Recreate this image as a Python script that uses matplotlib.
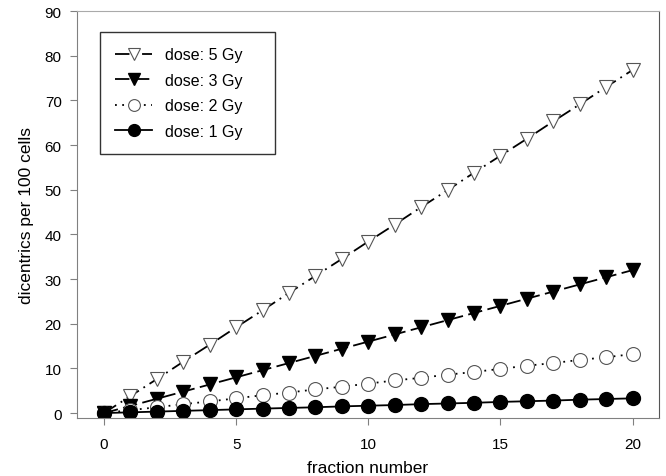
import numpy as np
import matplotlib
matplotlib.use("Agg")
import matplotlib.pyplot as plt

plt.rcParams['font.family'] = ['Liberation Sans', 'DejaVu Sans']

fractions = list(range(0, 21))
dose_5gy = [0, 3.8, 7.6, 11.5, 15.3, 19.2, 23.0, 26.9, 30.7, 34.5, 38.4,
            42.2, 46.1, 49.9, 53.8, 57.6, 61.4, 65.3, 69.1, 73.0, 76.8]
dose_3gy = [0, 1.6, 3.2, 4.8, 6.4, 8.0, 9.6, 11.2, 12.8, 14.4, 16.0,
            17.6, 19.2, 20.8, 22.4, 24.0, 25.6, 27.2, 28.8, 30.4, 32.0]
dose_2gy = [0, 0.66, 1.3, 2.0, 2.6, 3.3, 4.0, 4.6, 5.3, 5.9, 6.6,
            7.3, 7.9, 8.6, 9.2, 9.9, 10.6, 11.2, 11.9, 12.5, 13.2]
dose_1gy = [0, 0.17, 0.33, 0.5, 0.66, 0.83, 1.0, 1.15, 1.3, 1.5, 1.65,
            1.8, 2.0, 2.15, 2.3, 2.5, 2.65, 2.8, 3.0, 3.15, 3.3]
labels = ['dose: 5 Gy', 'dose: 3 Gy', 'dose: 2 Gy', 'dose: 1 Gy']

fig = plt.figure(figsize=(6.66, 4.77), dpi=100)
ax = fig.add_axes([0.1156, 0.1216, 0.8739, 0.8532])

ms = 10
ax.plot(fractions, dose_5gy, color='black', lw=1.3, ls=(0, (8, 3, 1, 3)),
        marker='v', ms=ms, mfc='white', mec='#555555', mew=0.8, label=labels[0])
ax.plot(fractions, dose_3gy, color='black', lw=1.3, ls=(0, (8, 3)),
        marker='v', ms=ms, mfc='black', mec='black', label=labels[1])
ax.plot(fractions, dose_2gy, color='black', lw=1.3, ls=(0, (1, 3)),
        marker='o', ms=ms, mfc='white', mec='#555555', mew=0.8, label=labels[2])
ax.plot(fractions, dose_1gy, color='black', lw=1.3, ls='-',
        marker='o', ms=ms, mfc='black', mec='black', label=labels[3])

ax.set_xlim(-1.02, 21.0)
ax.set_ylim(-1.1, 90)
ax.set_xticks([0, 5, 10, 15, 20])
ax.set_yticks(range(0, 91, 10))
ax.tick_params(direction='out', length=5, color='#808080', labelsize=11)
ax.tick_params(axis='x', pad=9)
ax.tick_params(axis='y', pad=6)
ax.spines['left'].set_color('#808080')
ax.spines['bottom'].set_color('#808080')
ax.spines['top'].set_color('#aaaaaa')
ax.spines['right'].set_color('#555555')

ax.set_xlabel('fraction number', fontsize=12.5, labelpad=6)
ax.set_ylabel('dicentrics per 100 cells', fontsize=12.5, labelpad=8)

leg = ax.legend(loc='upper left', bbox_to_anchor=(0.0395, 0.648, 0.3007, 0.3),
                mode='expand', borderaxespad=0, fontsize=11.5,
                frameon=True, fancybox=False, edgecolor='black',
                handlelength=2.3, handletextpad=0.8, borderpad=0.95,
                labelspacing=0.65, markerscale=0.85)
leg.get_frame().set_linewidth(1.0)

fig.savefig('out.png', dpi=100)
